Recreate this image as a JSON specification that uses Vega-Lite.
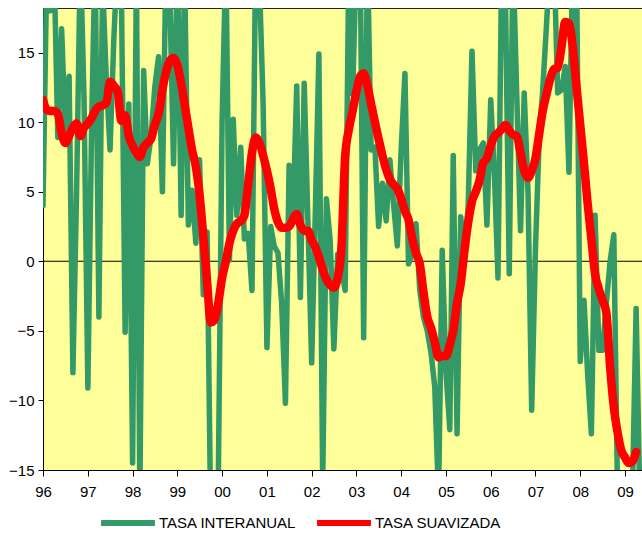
{
 "$schema": "https://vega.github.io/schema/vega-lite/v6.json",
 "width": 599,
 "height": 462,
 "autosize": {"type": "none"},
 "padding": {"left": 43, "top": 8, "right": 0, "bottom": 65},
 "background": "white",
 "config": {"view": {"fill": "#FFFF99", "stroke": "#222222", "strokeWidth": 1}, "font": "Liberation Sans"},
 "data": {"values": [
  {"mes":"1996-01-01","interanual":4.0,"suavizada":11.6},
  {"mes":"1996-02-01","interanual":21,"suavizada":10.9},
  {"mes":"1996-03-01","interanual":18,"suavizada":10.8},
  {"mes":"1996-04-01","interanual":21,"suavizada":10.8},
  {"mes":"1996-05-01","interanual":8.9,"suavizada":10.6},
  {"mes":"1996-06-01","interanual":16.7,"suavizada":9.2},
  {"mes":"1996-07-01","interanual":9.2,"suavizada":8.5},
  {"mes":"1996-08-01","interanual":13.3,"suavizada":9.0},
  {"mes":"1996-09-01","interanual":-8.0,"suavizada":9.6},
  {"mes":"1996-10-01","interanual":5,"suavizada":9.9},
  {"mes":"1996-11-01","interanual":22,"suavizada":9.0},
  {"mes":"1996-12-01","interanual":11.6,"suavizada":9.6},
  {"mes":"1997-01-01","interanual":-9.1,"suavizada":9.9},
  {"mes":"1997-02-01","interanual":10,"suavizada":10.3},
  {"mes":"1997-03-01","interanual":22,"suavizada":10.8},
  {"mes":"1997-04-01","interanual":-4.0,"suavizada":11.1},
  {"mes":"1997-05-01","interanual":20,"suavizada":11.2},
  {"mes":"1997-06-01","interanual":13,"suavizada":11.4},
  {"mes":"1997-07-01","interanual":8.0,"suavizada":12.9},
  {"mes":"1997-08-01","interanual":16,"suavizada":12.6},
  {"mes":"1997-09-01","interanual":22,"suavizada":12.2},
  {"mes":"1997-10-01","interanual":20,"suavizada":10.1},
  {"mes":"1997-11-01","interanual":-5.1,"suavizada":10.5},
  {"mes":"1997-12-01","interanual":11.3,"suavizada":9.0},
  {"mes":"1998-01-01","interanual":-14.5,"suavizada":8.3},
  {"mes":"1998-02-01","interanual":21,"suavizada":7.8},
  {"mes":"1998-03-01","interanual":-17,"suavizada":7.5},
  {"mes":"1998-04-01","interanual":13.7,"suavizada":8.2},
  {"mes":"1998-05-01","interanual":7.0,"suavizada":8.5},
  {"mes":"1998-06-01","interanual":9,"suavizada":8.8},
  {"mes":"1998-07-01","interanual":12.5,"suavizada":9.8},
  {"mes":"1998-08-01","interanual":14.7,"suavizada":10.6},
  {"mes":"1998-09-01","interanual":5.0,"suavizada":12.3},
  {"mes":"1998-10-01","interanual":22,"suavizada":13.6},
  {"mes":"1998-11-01","interanual":19,"suavizada":14.4},
  {"mes":"1998-12-01","interanual":7.0,"suavizada":14.6},
  {"mes":"1999-01-01","interanual":22,"suavizada":14.1},
  {"mes":"1999-02-01","interanual":3.3,"suavizada":12.8},
  {"mes":"1999-03-01","interanual":21,"suavizada":11.3},
  {"mes":"1999-04-01","interanual":2.6,"suavizada":9.6},
  {"mes":"1999-05-01","interanual":5.1,"suavizada":8.0},
  {"mes":"1999-06-01","interanual":1.3,"suavizada":6.8},
  {"mes":"1999-07-01","interanual":7.3,"suavizada":4.8},
  {"mes":"1999-08-01","interanual":-2.4,"suavizada":1.8},
  {"mes":"1999-09-01","interanual":2.1,"suavizada":-1.5},
  {"mes":"1999-10-01","interanual":-19,"suavizada":-4.4},
  {"mes":"1999-11-01","interanual":-19,"suavizada":-4.2},
  {"mes":"1999-12-01","interanual":-16,"suavizada":-3.0},
  {"mes":"2000-01-01","interanual":10,"suavizada":-1.2},
  {"mes":"2000-02-01","interanual":22,"suavizada":0},
  {"mes":"2000-03-01","interanual":0.1,"suavizada":1.3},
  {"mes":"2000-04-01","interanual":10.2,"suavizada":2.2},
  {"mes":"2000-05-01","interanual":3.3,"suavizada":2.7},
  {"mes":"2000-06-01","interanual":8.2,"suavizada":2.9},
  {"mes":"2000-07-01","interanual":1.6,"suavizada":3.3},
  {"mes":"2000-08-01","interanual":2.0,"suavizada":5.5},
  {"mes":"2000-09-01","interanual":-2.1,"suavizada":7.8},
  {"mes":"2000-10-01","interanual":22,"suavizada":8.9},
  {"mes":"2000-11-01","interanual":20,"suavizada":8.5},
  {"mes":"2000-12-01","interanual":11.3,"suavizada":7.6},
  {"mes":"2001-01-01","interanual":-6.2,"suavizada":6.5},
  {"mes":"2001-02-01","interanual":2.5,"suavizada":5.2},
  {"mes":"2001-03-01","interanual":1.1,"suavizada":3.8},
  {"mes":"2001-04-01","interanual":0.6,"suavizada":2.8},
  {"mes":"2001-05-01","interanual":-3,"suavizada":2.4},
  {"mes":"2001-06-01","interanual":-10.2,"suavizada":2.4},
  {"mes":"2001-07-01","interanual":6.9,"suavizada":2.5},
  {"mes":"2001-08-01","interanual":3.0,"suavizada":3.0},
  {"mes":"2001-09-01","interanual":12.6,"suavizada":3.4},
  {"mes":"2001-10-01","interanual":-2.6,"suavizada":2.6},
  {"mes":"2001-11-01","interanual":12.8,"suavizada":2.2},
  {"mes":"2001-12-01","interanual":3,"suavizada":2.2},
  {"mes":"2002-01-01","interanual":-7.3,"suavizada":1.5},
  {"mes":"2002-02-01","interanual":4,"suavizada":1.0},
  {"mes":"2002-03-01","interanual":14.9,"suavizada":0.3},
  {"mes":"2002-04-01","interanual":-16,"suavizada":-0.6},
  {"mes":"2002-05-01","interanual":4.5,"suavizada":-1.3},
  {"mes":"2002-06-01","interanual":1.5,"suavizada":-1.7},
  {"mes":"2002-07-01","interanual":-6.3,"suavizada":-1.9},
  {"mes":"2002-08-01","interanual":0.5,"suavizada":-1.2},
  {"mes":"2002-09-01","interanual":-0.5,"suavizada":1.0},
  {"mes":"2002-10-01","interanual":-2.1,"suavizada":7.5},
  {"mes":"2002-11-01","interanual":22,"suavizada":9.5},
  {"mes":"2002-12-01","interanual":12,"suavizada":10.8},
  {"mes":"2003-01-01","interanual":22,"suavizada":12.2},
  {"mes":"2003-02-01","interanual":22,"suavizada":13.3},
  {"mes":"2003-03-01","interanual":-5.5,"suavizada":13.5},
  {"mes":"2003-04-01","interanual":22,"suavizada":12.6},
  {"mes":"2003-05-01","interanual":8.0,"suavizada":11.3},
  {"mes":"2003-06-01","interanual":8.2,"suavizada":10.0},
  {"mes":"2003-07-01","interanual":2.5,"suavizada":8.8},
  {"mes":"2003-08-01","interanual":5.6,"suavizada":7.6},
  {"mes":"2003-09-01","interanual":2.9,"suavizada":6.6},
  {"mes":"2003-10-01","interanual":7.3,"suavizada":5.9},
  {"mes":"2003-11-01","interanual":4,"suavizada":5.5},
  {"mes":"2003-12-01","interanual":1.1,"suavizada":5.2},
  {"mes":"2004-01-01","interanual":8,"suavizada":4.5},
  {"mes":"2004-02-01","interanual":13.5,"suavizada":3.6},
  {"mes":"2004-03-01","interanual":-0.2,"suavizada":3.0},
  {"mes":"2004-04-01","interanual":0.5,"suavizada":1.6},
  {"mes":"2004-05-01","interanual":2.7,"suavizada":0.6},
  {"mes":"2004-06-01","interanual":-2.1,"suavizada":-0.2},
  {"mes":"2004-07-01","interanual":-4,"suavizada":-2.2},
  {"mes":"2004-08-01","interanual":-5,"suavizada":-4.0},
  {"mes":"2004-09-01","interanual":-6.6,"suavizada":-4.8},
  {"mes":"2004-10-01","interanual":-9,"suavizada":-5.8},
  {"mes":"2004-11-01","interanual":-17,"suavizada":-6.9},
  {"mes":"2004-12-01","interanual":0.8,"suavizada":-6.8},
  {"mes":"2005-01-01","interanual":-8,"suavizada":-6.8},
  {"mes":"2005-02-01","interanual":-12.1,"suavizada":-6.0},
  {"mes":"2005-03-01","interanual":7.6,"suavizada":-5.0},
  {"mes":"2005-04-01","interanual":-12.4,"suavizada":-3.0},
  {"mes":"2005-05-01","interanual":3.2,"suavizada":-1.6},
  {"mes":"2005-06-01","interanual":0.6,"suavizada":0.8},
  {"mes":"2005-07-01","interanual":4,"suavizada":2.8},
  {"mes":"2005-08-01","interanual":15.1,"suavizada":4.3},
  {"mes":"2005-09-01","interanual":6.5,"suavizada":5.0},
  {"mes":"2005-10-01","interanual":8.0,"suavizada":5.8},
  {"mes":"2005-11-01","interanual":8.5,"suavizada":7.1},
  {"mes":"2005-12-01","interanual":2.6,"suavizada":7.4},
  {"mes":"2006-01-01","interanual":11.6,"suavizada":8.3},
  {"mes":"2006-02-01","interanual":6,"suavizada":9.0},
  {"mes":"2006-03-01","interanual":-1.2,"suavizada":9.2},
  {"mes":"2006-04-01","interanual":22,"suavizada":9.5},
  {"mes":"2006-05-01","interanual":19,"suavizada":9.8},
  {"mes":"2006-06-01","interanual":-0.9,"suavizada":9.4},
  {"mes":"2006-07-01","interanual":22,"suavizada":9.1},
  {"mes":"2006-08-01","interanual":12,"suavizada":9.0},
  {"mes":"2006-09-01","interanual":2.2,"suavizada":7.8},
  {"mes":"2006-10-01","interanual":12.1,"suavizada":6.5},
  {"mes":"2006-11-01","interanual":5,"suavizada":6.0},
  {"mes":"2006-12-01","interanual":-10.7,"suavizada":6.5},
  {"mes":"2007-01-01","interanual":1,"suavizada":7.4},
  {"mes":"2007-02-01","interanual":9,"suavizada":9.2},
  {"mes":"2007-03-01","interanual":12.3,"suavizada":10.8},
  {"mes":"2007-04-01","interanual":17,"suavizada":12.0},
  {"mes":"2007-05-01","interanual":22,"suavizada":13.1},
  {"mes":"2007-06-01","interanual":22,"suavizada":13.8},
  {"mes":"2007-07-01","interanual":12.1,"suavizada":13.9},
  {"mes":"2007-08-01","interanual":12.3,"suavizada":15.4},
  {"mes":"2007-09-01","interanual":14,"suavizada":17.2},
  {"mes":"2007-10-01","interanual":6.4,"suavizada":17.1},
  {"mes":"2007-11-01","interanual":22,"suavizada":15.4},
  {"mes":"2007-12-01","interanual":22,"suavizada":12.6},
  {"mes":"2008-01-01","interanual":-7.2,"suavizada":9.8},
  {"mes":"2008-02-01","interanual":-2.8,"suavizada":7.0},
  {"mes":"2008-03-01","interanual":-8,"suavizada":4.2},
  {"mes":"2008-04-01","interanual":-12.4,"suavizada":1.6},
  {"mes":"2008-05-01","interanual":3.3,"suavizada":-0.9},
  {"mes":"2008-06-01","interanual":-6.4,"suavizada":-2.0},
  {"mes":"2008-07-01","interanual":-6.4,"suavizada":-2.8},
  {"mes":"2008-08-01","interanual":-3,"suavizada":-3.7},
  {"mes":"2008-09-01","interanual":0,"suavizada":-7.6},
  {"mes":"2008-10-01","interanual":1.9,"suavizada":-10.5},
  {"mes":"2008-11-01","interanual":-17,"suavizada":-12.3},
  {"mes":"2008-12-01","interanual":-20,"suavizada":-13.6},
  {"mes":"2009-01-01","interanual":-20,"suavizada":-14.1},
  {"mes":"2009-02-01","interanual":-20,"suavizada":-14.5},
  {"mes":"2009-03-01","interanual":-17,"suavizada":-14.4},
  {"mes":"2009-04-01","interanual":-3.4,"suavizada":-13.7},
  {"mes":"2009-05-01","interanual":-17,"suavizada":null}
 ]},
 "layer": [
  {
   "data": {"values": [{"cero": 0}]},
   "mark": {"type": "rule", "color": "#000000", "strokeWidth": 1},
   "encoding": {
    "y": {"field": "cero", "type": "quantitative", "scale": {"domain": [-15, 18.2], "nice": false, "zero": false}}
   }
  },
  {
   "mark": {"type": "line", "strokeWidth": 5.5, "clip": true, "strokeJoin": "round", "strokeCap": "round"},
   "encoding": {
    "x": {"field": "mes", "type": "temporal",
     "scale": {"type": "utc", "domain": [{"year": 1996, "month": 1, "date": 1, "utc": true}, {"year": 2009, "month": 5, "date": 19, "utc": true}]},
     "axis": {"title": null, "format": "%y", "grid": false, "labelFlush": false, "labelOverlap": false,
      "values": [{"year":1996,"utc":true},{"year":1997,"utc":true},{"year":1998,"utc":true},{"year":1999,"utc":true},{"year":2000,"utc":true},{"year":2001,"utc":true},{"year":2002,"utc":true},{"year":2003,"utc":true},{"year":2004,"utc":true},{"year":2005,"utc":true},{"year":2006,"utc":true},{"year":2007,"utc":true},{"year":2008,"utc":true},{"year":2009,"utc":true}],
      "tickSize": 6, "labelPadding": 8, "labelFontSize": 15, "labelFont": "Liberation Sans", "labelColor": "#000000", "domainColor": "#000000", "tickColor": "#000000"}},
    "y": {"field": "interanual", "type": "quantitative",
     "scale": {"domain": [-15, 18.2], "nice": false, "zero": false},
     "axis": {"title": null, "grid": false, "values": [-15, -10, -5, 0, 5, 10, 15], "labelFlush": false, "labelOverlap": false,
      "tickSize": 5, "labelPadding": 4, "labelFontSize": 15, "labelFont": "Liberation Sans", "labelColor": "#000000", "domainColor": "#000000", "tickColor": "#000000"}},
    "color": {"datum": "TASA INTERANUAL", "type": "nominal",
     "scale": {"domain": ["TASA INTERANUAL", "TASA SUAVIZADA"], "range": ["#339966", "#FF0000"]},
     "legend": {"title": null, "orient": "none", "legendX": 55, "legendY": 485, "direction": "horizontal",
      "symbolType": "stroke", "symbolSize": 2900, "symbolStrokeWidth": 6, "labelFontSize": 15, "labelFont": "Liberation Sans",
      "labelColor": "#000000", "labelOffset": 1, "columnPadding": 8}}
   }
  },
  {
   "mark": {"type": "line", "strokeWidth": 8.5, "clip": true, "interpolate": "monotone", "strokeJoin": "round", "strokeCap": "round"},
   "encoding": {
    "x": {"field": "mes", "type": "temporal"},
    "y": {"field": "suavizada", "type": "quantitative"},
    "color": {"datum": "TASA SUAVIZADA", "type": "nominal"}
   }
  }
 ]
}
